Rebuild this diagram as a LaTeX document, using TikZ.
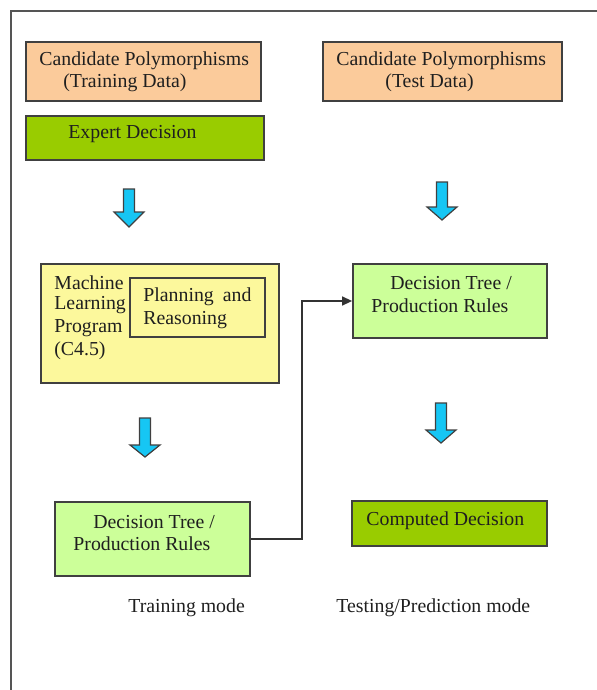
\documentclass[tikz,border=0pt]{standalone}
\usepackage{fontspec}
\setmainfont{Liberation Serif}
\usetikzlibrary{fit,arrows.meta}
\definecolor{peach}{HTML}{FBCB9B}
\definecolor{limegreen}{HTML}{99CC00}
\definecolor{palegreen}{HTML}{CCFF99}
\definecolor{paleyellow}{HTML}{FCF89C}
\definecolor{arrowblue}{HTML}{16C6F4}
\definecolor{edgegray}{HTML}{404040}
\definecolor{framegray}{HTML}{555555}
\newcommand\bluearrow[4]{\draw[barrow] (#1-5.5,#2) -- (#1+5.5,#2) -- (#1+5.5,#3) -- (#1+15,#3) -- (#1,#4) -- (#1-15,#3) -- (#1-5.5,#3) -- cycle;}
\begin{document}
\begin{tikzpicture}[x=0.5pt,y=-0.5pt,
  box/.style={draw=edgegray, line width=0.9pt, inner sep=0pt},
  txt/.style={anchor=west, inner sep=0pt, font=\fontsize{9.9}{11}\selectfont, text=black!88},
  barrow/.style={fill=arrowblue, draw=black!75, line width=0.6pt, line join=miter},
  conn/.style={draw=black!80, line width=0.7pt, -{Triangle[length=5pt,width=4.5pt]}},
  framestyle/.style={draw=framegray, line width=1pt}]
\useasboundingbox (0,0) rectangle (597,690);
\fill[white] (0,0) rectangle (597,690);
\draw[framestyle] (11,690) -- (11,11) -- (597,11);

% corner coordinates
\coordinate (a1) at (26,42);   \coordinate (a2) at (261,101);
\coordinate (b1) at (26,116);  \coordinate (b2) at (264,160);
\coordinate (c1) at (323,42);  \coordinate (c2) at (562,101);
\coordinate (d1) at (41,264);  \coordinate (d2) at (279,383);
\coordinate (p1) at (130,278); \coordinate (p2) at (265,337);
\coordinate (e1) at (353,264); \coordinate (e2) at (547,338);
\coordinate (f1) at (55,502);  \coordinate (f2) at (250,576);
\coordinate (g1) at (352,501); \coordinate (g2) at (547,546);

% boxes
\node[box, fit=(a1)(a2), fill=peach] (candTrain) {};
\node[box, fit=(b1)(b2), fill=limegreen] (expert) {};
\node[box, fit=(c1)(c2), fill=peach] (candTest) {};
\node[box, fit=(d1)(d2), fill=paleyellow] (mlp) {};
\node[box, fit=(p1)(p2)] (plan) {};
\node[box, fit=(e1)(e2), fill=palegreen] (dtTest) {};
\node[box, fit=(f1)(f2), fill=palegreen] (dtTrain) {};
\node[box, fit=(g1)(g2), fill=limegreen] (computed) {};

% texts
\node[txt] (t1) at (39,61) {Candidate Polymorphisms};
\node[txt] (t2) at (63,83) {(Training Data)};
\node[txt] (t3) at (68,134) {Expert Decision};
\node[txt] (t4) at (336,61) {Candidate Polymorphisms};
\node[txt] (t5) at (385,83) {(Test Data)};
\node[txt] (t6) at (54,283) {Machine};
\node[txt] (t7) at (54,305.5) {Learning};
\node[txt] (t8) at (54,328) {Program};
\node[txt] (t9) at (54,351) {(C4.5)};
\node[txt] (t10) at (143,297) {\makebox[54pt][s]{Planning and}};
\node[txt] (t11) at (143,320) {Reasoning};
\node[txt] (t12) at (390,283) {Decision Tree /};
\node[txt] (t13) at (371,306) {Production Rules};
\node[txt] (t14) at (93,522) {Decision Tree /};
\node[txt] (t15) at (73,544) {Production Rules};
\node[txt] (t16) at (366,521) {Computed Decision};
\node[txt] (t17) at (128,608) {Training mode};
\node[txt] (t18) at (336,608) {Testing/Prediction mode};

% block arrows
\bluearrow{129}{189}{212}{227}
\bluearrow{442}{182}{207}{220}
\bluearrow{145}{418}{445}{457}
\bluearrow{441}{403}{430}{443}

% connector
\draw[conn] (dtTrain.east) -- ++(51,0) |- (dtTest.west);
\end{tikzpicture}
\end{document}
